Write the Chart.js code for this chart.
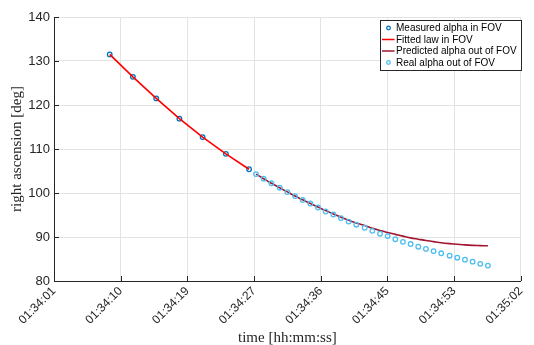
<!DOCTYPE html>
<html>
<head>
<meta charset="utf-8">
<script src="https://cdn.jsdelivr.net/npm/chart.js@4"></script>
<style>
  html, body { margin: 0; padding: 0; background: #fff; }
  #wrap { width: 534px; height: 345px; }
</style>
</head>
<body>
<div id="wrap"><canvas id="c" width="534" height="345"></canvas></div>
<script>
// seconds after 01:34:01
var tickLabels = ['01:34:01', '01:34:10', '01:34:19', '01:34:27', '01:34:36', '01:34:45', '01:34:53', '01:35:02'];
var axisSpan = 61;

var measuredT = [7.28, 10.31, 13.36, 16.39, 19.42, 22.46, 25.49];
var measuredA = [131.5, 126.4, 121.5, 116.9, 112.7, 108.9, 105.4];

var realT = [26.4, 27.4, 28.4, 29.5, 30.5, 31.5, 32.5, 33.5, 34.5, 35.5, 36.5, 37.5, 38.5, 39.5, 40.6, 41.6,
             42.6, 43.6, 44.6, 45.6, 46.6, 47.6, 48.6, 49.6, 50.6, 51.7, 52.7, 53.7, 54.7, 55.7, 56.7];
var realA = [104.3, 103.25, 102.2, 101.2, 100.2, 99.3, 98.4, 97.6, 96.7, 95.8, 95.1, 94.3, 93.5, 92.8, 92.1, 91.4,
             90.75, 90.2, 89.5, 88.9, 88.4, 87.8, 87.3, 86.8, 86.3, 85.75, 85.3, 84.85, 84.4, 83.9, 83.5];
var predictedA = [104.3, 103.25, 102.2, 101.2, 100.25, 99.3, 98.45, 97.6, 96.8, 96.0, 95.25, 94.5, 93.8, 93.2, 92.6, 92.0,
                  91.5, 91.0, 90.6, 90.2, 89.8, 89.5, 89.2, 88.95, 88.7, 88.5, 88.35, 88.2, 88.1, 88.05, 88.0];

function pts(xs, ys) { return xs.map(function (x, i) { return {x: x, y: ys[i]}; }); }

var inwardTicks = {
  id: 'inwardTicks',
  afterDatasetsDraw: function (chart) {
    var ctx = chart.ctx, a = chart.chartArea;
    ctx.save();
    ctx.strokeStyle = '#262626';
    ctx.lineWidth = 1;
    chart.scales.x.ticks.forEach(function (t) {
      var px = Math.round(chart.scales.x.getPixelForValue(t.value)) + 0.5;
      ctx.beginPath(); ctx.moveTo(px, a.bottom); ctx.lineTo(px, a.bottom - 5); ctx.stroke();
    });
    chart.scales.y.ticks.forEach(function (t) {
      var py = Math.round(chart.scales.y.getPixelForValue(t.value)) + 0.5;
      ctx.beginPath(); ctx.moveTo(a.left, py); ctx.lineTo(a.left + 5, py); ctx.stroke();
    });
    ctx.restore();
  }
};

var boxLegend = {
  id: 'boxLegend',
  afterDraw: function (chart) {
    var ctx = chart.ctx;
    var x0 = 380.5, y0 = 20.5, w = 141, h = 50;
    ctx.save();
    ctx.fillStyle = '#fff';
    ctx.fillRect(x0, y0, w, h);
    ctx.strokeStyle = '#262626';
    ctx.lineWidth = 1;
    ctx.strokeRect(x0, y0, w, h);
    ctx.font = '10px "Liberation Sans", Arial, sans-serif';
    ctx.textBaseline = 'middle';
    chart.data.datasets.forEach(function (ds, i) {
      var cy = y0 + 7.5 + i * 11.5;
      if (ds.showLine) {
        ctx.strokeStyle = ds.borderColor;
        ctx.lineWidth = 1.5;
        ctx.beginPath(); ctx.moveTo(x0 + 1.5, cy); ctx.lineTo(x0 + 14, cy); ctx.stroke();
      } else {
        ctx.strokeStyle = ds.pointBorderColor;
        ctx.lineWidth = 1.3;
        ctx.beginPath(); ctx.arc(x0 + 8, cy, 1.8, 0, Math.PI * 2); ctx.stroke();
      }
      ctx.fillStyle = '#000';
      ctx.fillText(ds.label, x0 + 15.5, cy + 0.5);
    });
    ctx.restore();
  }
};

new Chart(document.getElementById('c'), {
  type: 'scatter',
  data: {
    datasets: [
      { label: 'Measured alpha in FOV', data: pts(measuredT, measuredA), showLine: false, order: 4,
        pointRadius: 2.3, pointBorderWidth: 1.3, pointBorderColor: '#0072BD', pointBackgroundColor: 'rgba(0,0,0,0)' },
      { label: 'Fitted law in FOV', data: pts(measuredT, measuredA), showLine: true, order: 3,
        borderColor: '#FF0000', borderWidth: 1.6, pointRadius: 0 },
      { label: 'Predicted alpha out of FOV', data: pts(realT, predictedA), showLine: true, order: 2,
        borderColor: '#A2142F', borderWidth: 1.6, pointRadius: 0, tension: 0.3 },
      { label: 'Real alpha out of FOV', data: pts(realT, realA), showLine: false, order: 1,
        pointRadius: 2.3, pointBorderWidth: 1.3, pointBorderColor: '#4DBEEE', pointBackgroundColor: 'rgba(0,0,0,0)' }
    ]
  },
  options: {
    responsive: false,
    animation: false,
    layout: { padding: { top: 17, right: 11, left: 0, bottom: 0 } },
    plugins: { legend: { display: false }, tooltip: { enabled: false } },
    scales: {
      x: {
        type: 'linear', min: 0, max: axisSpan,
        afterBuildTicks: function (s) {
          s.ticks = tickLabels.map(function (l, i) { return {value: i * axisSpan / 7}; });
        },
        afterFit: function (s) { s.height = 64; },
        ticks: {
          autoSkip: false, minRotation: 45, maxRotation: 45, padding: 3,
          color: '#262626', font: { family: '"Liberation Sans", Arial, sans-serif', size: 12 },
          callback: function (v, i) { return tickLabels[i]; }
        },
        grid: { color: '#e3e3e3', tickLength: 0, drawTicks: false },
        border: { color: '#262626', width: 1 },
        title: { display: true, text: 'time [hh:mm:ss]', color: '#262626', padding: { top: 0, bottom: -2 },
                 font: { family: '"Liberation Serif", serif', size: 15 } }
      },
      y: {
        min: 80, max: 140,
        afterFit: function (s) { s.width = 54; },
        ticks: { stepSize: 10, padding: 4, color: '#262626',
                 font: { family: '"Liberation Sans", Arial, sans-serif', size: 13 } },
        grid: { color: '#e3e3e3', drawTicks: false },
        border: { color: '#262626', width: 1 },
        title: { display: true, text: 'right ascension [deg]', color: '#262626', padding: { top: 8, bottom: 0 },
                 font: { family: '"Liberation Serif", serif', size: 15 } }
      }
    }
  },
  plugins: [inwardTicks, boxLegend]
});
</script>
</body>
</html>
